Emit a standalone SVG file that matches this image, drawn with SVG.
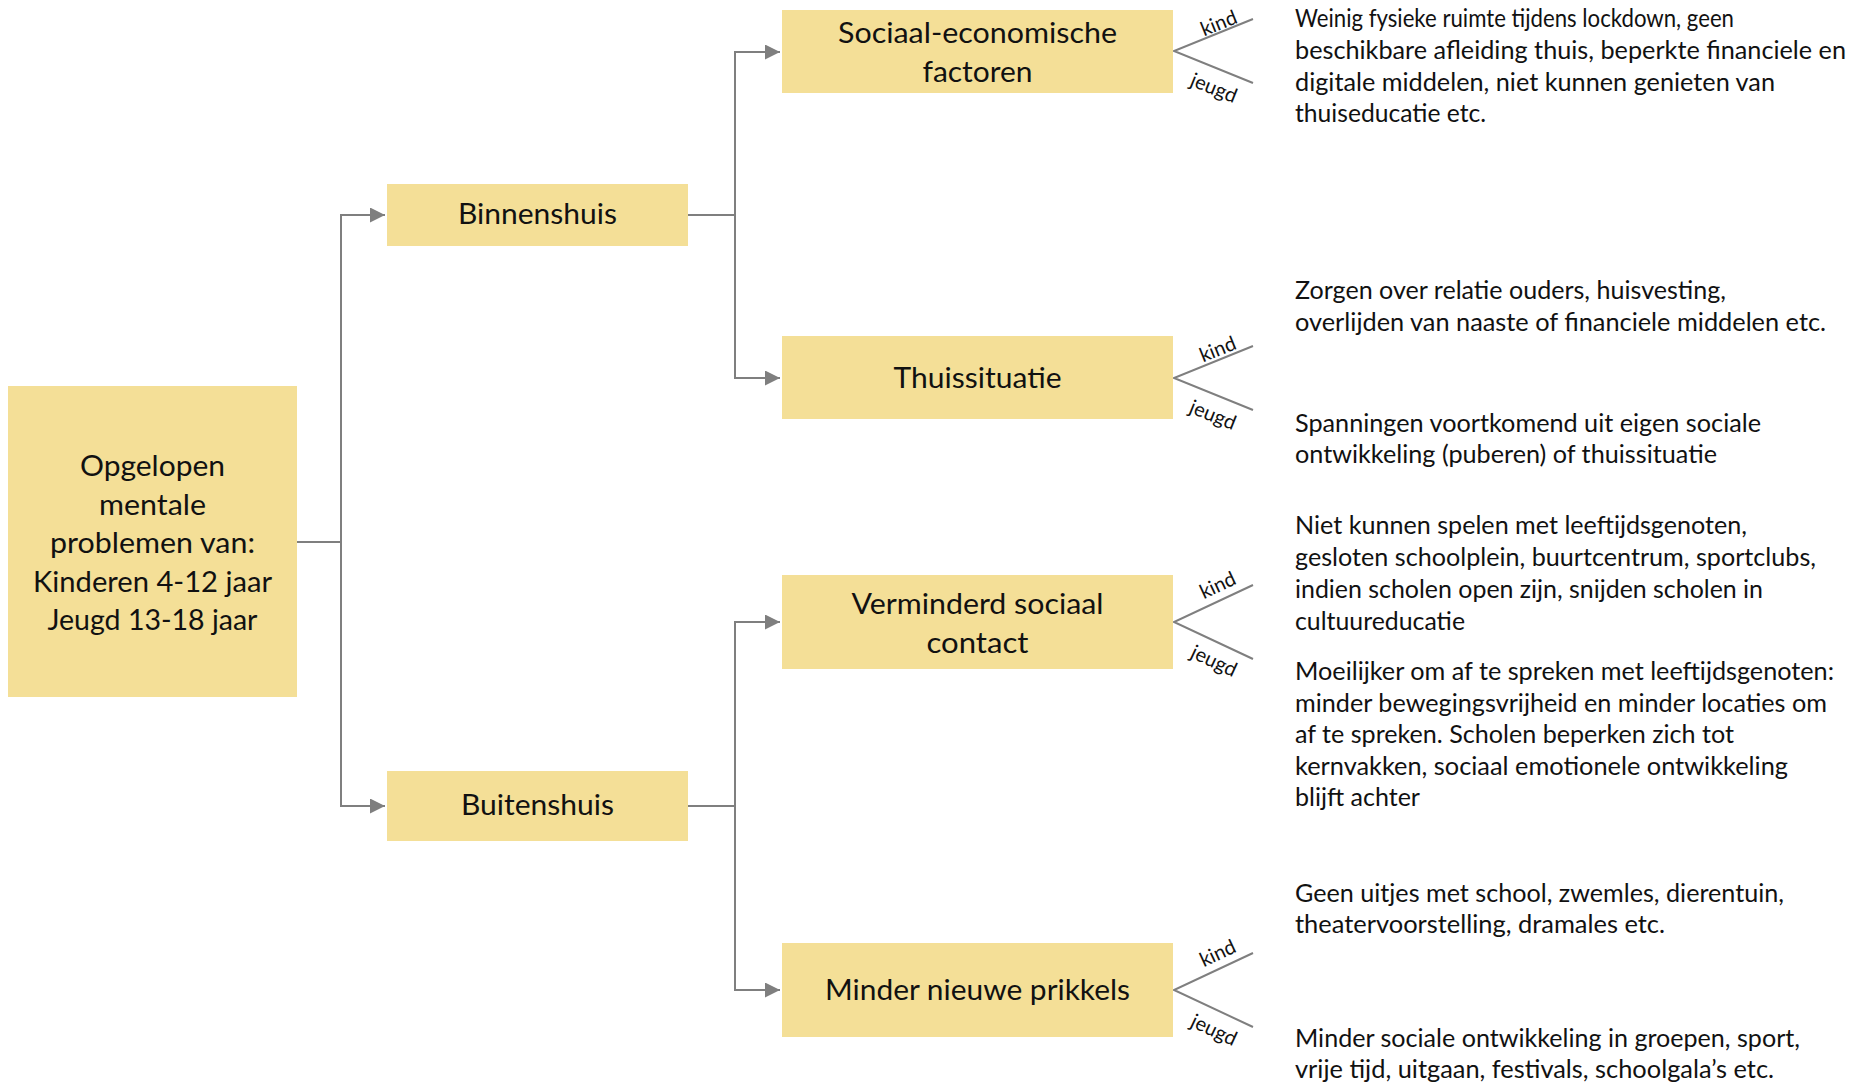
<svg xmlns="http://www.w3.org/2000/svg" width="1859" height="1085" viewBox="0 0 1859 1085">
<style>
.box{fill:#F4DF97;}
.bt{font-family:Lato,"Open Sans","Liberation Sans",sans-serif;font-size:29px;fill:#111;text-anchor:middle;}
.dt{font-family:Lato,"Open Sans","Liberation Sans",sans-serif;font-size:25px;fill:#111;}
.lb{font-family:Lato,"Open Sans","Liberation Sans",sans-serif;font-size:20px;fill:#111;text-anchor:middle;}
.ln{fill:none;stroke:#7F7F7F;stroke-width:2;}
</style>
<defs>
<marker id="ah" markerUnits="userSpaceOnUse" markerWidth="16" markerHeight="16" refX="15" refY="7.5" orient="auto">
<path d="M0,0 L15,7.5 L0,15 Z" fill="#7F7F7F"/>
</marker>
</defs>
<rect width="1859" height="1085" fill="#fff"/>
<g id="connectors">
<path class="ln" d="M297,542 H341 V215 H385" marker-end="url(#ah)"/>
<path class="ln" d="M297,542 H341 V806 H385" marker-end="url(#ah)"/>
<path class="ln" d="M688,215 H735 V52 H780" marker-end="url(#ah)"/>
<path class="ln" d="M688,215 H735 V378 H780" marker-end="url(#ah)"/>
<path class="ln" d="M688,806 H735 V622 H780" marker-end="url(#ah)"/>
<path class="ln" d="M688,806 H735 V990 H780" marker-end="url(#ah)"/>
<path class="ln" d="M1253,19 L1174,51 L1253,83"/>
<path class="ln" d="M1253,346 L1174,378 L1253,410"/>
<path class="ln" d="M1253,585 L1174,622 L1253,659"/>
<path class="ln" d="M1253,953 L1174,990 L1253,1027"/>
<text class="lb" transform="translate(1219,24) rotate(-22)" y="6">kind</text>
<text class="lb" transform="translate(1213,90) rotate(22)" y="4.5">jeugd</text>
<text class="lb" transform="translate(1218,350) rotate(-22)" y="6">kind</text>
<text class="lb" transform="translate(1212,417) rotate(22)" y="4.5">jeugd</text>
<text class="lb" transform="translate(1218,586) rotate(-25)" y="6">kind</text>
<text class="lb" transform="translate(1213,663) rotate(25)" y="4.5">jeugd</text>
<text class="lb" transform="translate(1218,954) rotate(-25)" y="6">kind</text>
<text class="lb" transform="translate(1213,1032) rotate(25)" y="4.5">jeugd</text>
</g>
<g id="root">
<rect class="box" x="8" y="386" width="289" height="311"/>
<text class="bt" x="152.5" y="476" textLength="145" lengthAdjust="spacingAndGlyphs">Opgelopen</text>
<text class="bt" x="152.5" y="514.5" textLength="107" lengthAdjust="spacingAndGlyphs">mentale</text>
<text class="bt" x="152.5" y="553" textLength="205" lengthAdjust="spacingAndGlyphs">problemen van:</text>
<text class="bt" x="152.5" y="591.5" textLength="239" lengthAdjust="spacingAndGlyphs">Kinderen 4-12 jaar</text>
<text class="bt" x="152.5" y="630" textLength="210" lengthAdjust="spacingAndGlyphs">Jeugd 13-18 jaar</text>
</g>
<g id="binnenshuis">
<rect class="box" x="387" y="184" width="301" height="62"/>
<text class="bt" x="537.5" y="224" textLength="159" lengthAdjust="spacingAndGlyphs">Binnenshuis</text>
</g>
<g id="buitenshuis">
<rect class="box" x="387" y="771" width="301" height="70"/>
<text class="bt" x="537.5" y="815" textLength="153" lengthAdjust="spacingAndGlyphs">Buitenshuis</text>
</g>
<g id="sociaal">
<rect class="box" x="782" y="10" width="391" height="83"/>
<text class="bt" x="977.5" y="43" textLength="279" lengthAdjust="spacingAndGlyphs">Sociaal-economische</text>
<text class="bt" x="977.5" y="82" textLength="110" lengthAdjust="spacingAndGlyphs">factoren</text>
</g>
<g id="thuissituatie">
<rect class="box" x="782" y="336" width="391" height="83"/>
<text class="bt" x="977.5" y="388" textLength="168" lengthAdjust="spacingAndGlyphs">Thuissituatie</text>
</g>
<g id="verminderd">
<rect class="box" x="782" y="575" width="391" height="94"/>
<text class="bt" x="977.5" y="613.5" textLength="252" lengthAdjust="spacingAndGlyphs">Verminderd sociaal</text>
<text class="bt" x="977.5" y="652.5" textLength="102" lengthAdjust="spacingAndGlyphs">contact</text>
</g>
<g id="prikkels">
<rect class="box" x="782" y="943" width="391" height="94"/>
<text class="bt" x="977.5" y="1000" textLength="305" lengthAdjust="spacingAndGlyphs">Minder nieuwe prikkels</text>
</g>
<g id="descriptions">
<text class="dt" x="1295" y="27" textLength="439" lengthAdjust="spacingAndGlyphs">Weinig fysieke ruimte tijdens lockdown, geen</text>
<text class="dt" x="1295" y="59" textLength="551" lengthAdjust="spacingAndGlyphs">beschikbare afleiding thuis, beperkte financiele en</text>
<text class="dt" x="1295" y="91" textLength="480" lengthAdjust="spacingAndGlyphs">digitale middelen, niet kunnen genieten van</text>
<text class="dt" x="1295" y="122" textLength="191" lengthAdjust="spacingAndGlyphs">thuiseducatie etc.</text>
<text class="dt" x="1295" y="299" textLength="431" lengthAdjust="spacingAndGlyphs">Zorgen over relatie ouders, huisvesting,</text>
<text class="dt" x="1295" y="331" textLength="531" lengthAdjust="spacingAndGlyphs">overlijden van naaste of financiele middelen etc.</text>
<text class="dt" x="1295" y="432" textLength="466" lengthAdjust="spacingAndGlyphs">Spanningen voortkomend uit eigen sociale</text>
<text class="dt" x="1295" y="463" textLength="422" lengthAdjust="spacingAndGlyphs">ontwikkeling (puberen) of thuissituatie</text>
<text class="dt" x="1295" y="534" textLength="452" lengthAdjust="spacingAndGlyphs">Niet kunnen spelen met leeftijdsgenoten,</text>
<text class="dt" x="1295" y="566" textLength="521" lengthAdjust="spacingAndGlyphs">gesloten schoolplein, buurtcentrum, sportclubs,</text>
<text class="dt" x="1295" y="598" textLength="468" lengthAdjust="spacingAndGlyphs">indien scholen open zijn, snijden scholen in</text>
<text class="dt" x="1295" y="629.5" textLength="170" lengthAdjust="spacingAndGlyphs">cultuureducatie</text>
<text class="dt" x="1295" y="680" textLength="539" lengthAdjust="spacingAndGlyphs">Moeilijker om af te spreken met leeftijdsgenoten:</text>
<text class="dt" x="1295" y="711.5" textLength="532" lengthAdjust="spacingAndGlyphs">minder bewegingsvrijheid en minder locaties om</text>
<text class="dt" x="1295" y="743" textLength="439" lengthAdjust="spacingAndGlyphs">af te spreken. Scholen beperken zich tot</text>
<text class="dt" x="1295" y="774.5" textLength="493" lengthAdjust="spacingAndGlyphs">kernvakken, sociaal emotionele ontwikkeling</text>
<text class="dt" x="1295" y="806" textLength="125" lengthAdjust="spacingAndGlyphs">blijft achter</text>
<text class="dt" x="1295" y="902" textLength="489" lengthAdjust="spacingAndGlyphs">Geen uitjes met school, zwemles, dierentuin,</text>
<text class="dt" x="1295" y="933" textLength="370" lengthAdjust="spacingAndGlyphs">theatervoorstelling, dramales etc.</text>
<text class="dt" x="1295" y="1047" textLength="505" lengthAdjust="spacingAndGlyphs">Minder sociale ontwikkeling in groepen, sport,</text>
<text class="dt" x="1295" y="1078" textLength="479" lengthAdjust="spacingAndGlyphs">vrije tijd, uitgaan, festivals, schoolgala’s etc.</text>
</g>
</svg>
